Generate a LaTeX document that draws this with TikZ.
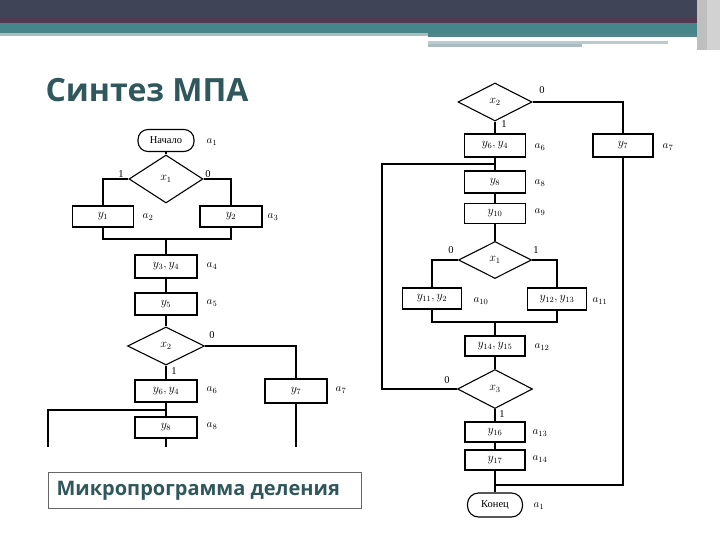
\documentclass[tikz,border=0pt]{standalone}
\usepackage{fontspec}
\setmainfont{Liberation Serif}
\newfontfamily\headfont{Open Sans}
\usetikzlibrary{shapes.geometric}
\definecolor{banddark}{HTML}{3F4456}
\definecolor{bandteal}{HTML}{46868B}
\definecolor{bandlight}{HTML}{A9BDC1}
\definecolor{headcol}{HTML}{30585C}
\tikzset{
  conn/.style={line width=1.1pt},
  blk/.style={draw, line width=1.1pt, rectangle, minimum width=62pt, minimum height=22pt, inner sep=0pt, font=\fontsize{12}{14}\selectfont},
  term/.style={draw, line width=1.1pt, rectangle, rounded corners=10pt, minimum width=56pt, minimum height=22pt, inner sep=0pt, font=\fontsize{10.5}{12}\selectfont},
  dec/.style={draw, line width=1.1pt, diamond, inner sep=0pt, font=\fontsize{12}{14}\selectfont},
  lab/.style={font=\fontsize{11}{13}\selectfont, inner sep=0pt},
  bit/.style={font=\fontsize{10.5}{12}\selectfont, inner sep=0pt}
}
\begin{document}
\begin{tikzpicture}[x=1pt,y=-1pt]
\useasboundingbox (0,0) rectangle (720,540);
% top band
\fill[banddark] (0,0) rectangle (720,20);
\fill[banddark!85!purple] (0,18) rectangle (720,23);
\fill[bandteal] (0,23) rectangle (720,33);
\fill[bandlight] (0,33) rectangle (428,36);
\fill[bandteal!80!gray] (428,33) rectangle (700,37);
\fill[bandlight!80!white] (428,41) rectangle (668,44);
\fill[bandlight] (428,44) rectangle (582,47);
\fill[gray!50!white] (697,0) rectangle (707,50);
\fill[gray!35!white] (707,0) rectangle (720,50);
% title
\node[anchor=west, text=headcol, font=\headfont\bfseries\fontsize{32}{37}\selectfont] (title) at (42,90) {Синтез МПА};
% caption box
\node[draw=gray!80!black, line width=0.8pt, anchor=north west, minimum width=313pt, minimum height=36pt, inner sep=0pt] (capbox) at (48,472) {};
\node[anchor=west, text=headcol, font=\headfont\bfseries\fontsize{20}{23}\selectfont] (cap) at (53,491) {Микропрограмма деления};

% ===== left flowchart =====
\node[term] (start) at (166,140.5) {Начало};
\node[lab] (la1) at (212,142) {$a_1$};
\node[dec, minimum width=74pt, minimum height=48pt] (d1) at (166,179) {$x_1$};
\node[bit] (l1a) at (121,174) {1};
\node[bit] (l1b) at (208,174) {0};
\node[blk, minimum width=61pt, minimum height=21pt] (y1) at (103,216.5) {$y_1$};
\node[lab] (la2) at (148,217) {$a_2$};
\node[blk, minimum height=21pt] (y2) at (231,216.5) {$y_2$};
\node[lab] (la3) at (273,217) {$a_3$};
\coordinate (m1) at (166,239);
\node[blk, minimum height=23pt] (y34) at (166,266.5) {$y_3, y_4$};
\node[lab] (la4) at (212,266) {$a_4$};
\node[blk] (y5) at (166,304) {$y_5$};
\node[lab] (la5) at (212,303) {$a_5$};
\node[dec, minimum width=77pt, minimum height=38pt] (d2) at (166,346) {$x_2$};
\node[bit] (l2a) at (212,335) {0};
\node[bit] (l2b) at (174,371) {1};
\node[blk] (y64) at (166,391) {$y_6, y_4$};
\node[lab] (la6) at (212,390) {$a_6$};
\node[blk, minimum height=24pt] (y7) at (296,391) {$y_7$};
\node[lab] (la7) at (341,390) {$a_7$};
\node[blk, minimum height=21pt] (y8) at (166,427.5) {$y_8$};
\node[lab] (la8) at (212,426) {$a_8$};
\coordinate (b1) at (166,410);
\coordinate (lb) at (48,410);
\coordinate (lbend) at (48,447);
\coordinate (e1) at (166,447);
\coordinate (e2) at (296,447);

\draw[conn] (start) -- (d1);
\draw[conn] (d1.west) -| (y1.north);
\draw[conn] (d1.east) -| (y2.north);
\draw[conn] (y1.south) |- (m1);
\draw[conn] (m1) -| (y2.south);
\draw[conn] (m1) -- (y34);
\draw[conn] (y34) -- (y5);
\draw[conn] (y5) -- (d2);
\draw[conn] (d2) -- (y64);
\draw[conn] (d2.east) -| (y7.north);
\draw[conn] (y64) -- (y8);
\draw[conn] (b1) -- (lb) -- (lbend);
\draw[conn] (y8) -- (e1);
\draw[conn] (y7) -- (e2);

% ===== right flowchart =====
\node[dec, minimum width=74pt, minimum height=38pt] (d3) at (495,102) {$x_2$};
\node[bit] (l3a) at (542,90) {0};
\node[bit] (l3b) at (504,124) {1};
\node[blk, minimum width=61pt, minimum height=23pt] (r64) at (495,145.5) {$y_6, y_4$};
\node[lab] (ra6) at (540,147) {$a_6$};
\node[blk, minimum width=60pt, minimum height=23pt] (r7) at (623,145.5) {$y_7$};
\node[lab] (ra7) at (668,147) {$a_7$};
\coordinate (b2) at (495,164);
\coordinate (lp) at (382,164);
\node[blk, minimum width=61pt] (r8) at (495,182) {$y_8$};
\node[lab] (ra8) at (540,183) {$a_8$};
\node[blk, minimum width=61pt, minimum height=20pt] (r10) at (495,213.5) {$y_{10}$};
\node[lab] (ra9) at (540,212) {$a_9$};
\node[dec, minimum width=73pt, minimum height=37pt] (d4) at (495,260) {$x_1$};
\node[bit] (l4a) at (451,250) {0};
\node[bit] (l4b) at (536,250) {1};
\node[blk, minimum width=59pt, minimum height=21pt] (r112) at (432,298.5) {$y_{11}, y_2$};
\node[lab] (ra10) at (481,301) {$a_{10}$};
\node[blk, minimum width=59pt, minimum height=22pt] (r1213) at (557,299) {$y_{12}, y_{13}$};
\node[lab] (ra11) at (600,301) {$a_{11}$};
\coordinate (m2) at (495,322);
\node[blk, minimum width=60pt, minimum height=20pt] (r1415) at (495,346) {$y_{14}, y_{15}$};
\node[lab] (ra12) at (542,347) {$a_{12}$};
\node[dec, minimum width=75pt, minimum height=39pt] (d5) at (495,389) {$x_3$};
\node[bit] (l5a) at (447,380) {0};
\node[bit] (l5b) at (502,414) {1};
\node[blk, minimum width=60pt, minimum height=20pt] (r16) at (495,432) {$y_{16}$};
\node[lab] (ra13) at (540,433) {$a_{13}$};
\node[blk, minimum width=60pt, minimum height=20pt] (r17) at (495,460) {$y_{17}$};
\node[lab] (ra14) at (540,459) {$a_{14}$};
\coordinate (j2) at (495,485);
\node[term, minimum width=55pt, minimum height=24pt, rounded corners=11pt] (fin) at (495,505) {Конец};
\node[lab] (ra1) at (539,506) {$a_1$};

\draw[conn] (d3) -- (r64);
\draw[conn] (d3.east) -| (r7.north);
\draw[conn] (r64) -- (r8);
\draw[conn] (b2) -- (lp) |- (d5.west);
\draw[conn] (r8) -- (r10);
\draw[conn] (r10) -- (d4);
\draw[conn] (d4.west) -| (r112.north);
\draw[conn] (d4.east) -| (r1213.north);
\draw[conn] (r112.south) |- (m2);
\draw[conn] (m2) -| (r1213.south);
\draw[conn] (m2) -- (r1415);
\draw[conn] (r1415) -- (d5);
\draw[conn] (d5) -- (r16);
\draw[conn] (r16) -- (r17);
\draw[conn] (r17) -- (fin);
\draw[conn] (r7.south) |- (j2);
\end{tikzpicture}
\end{document}
